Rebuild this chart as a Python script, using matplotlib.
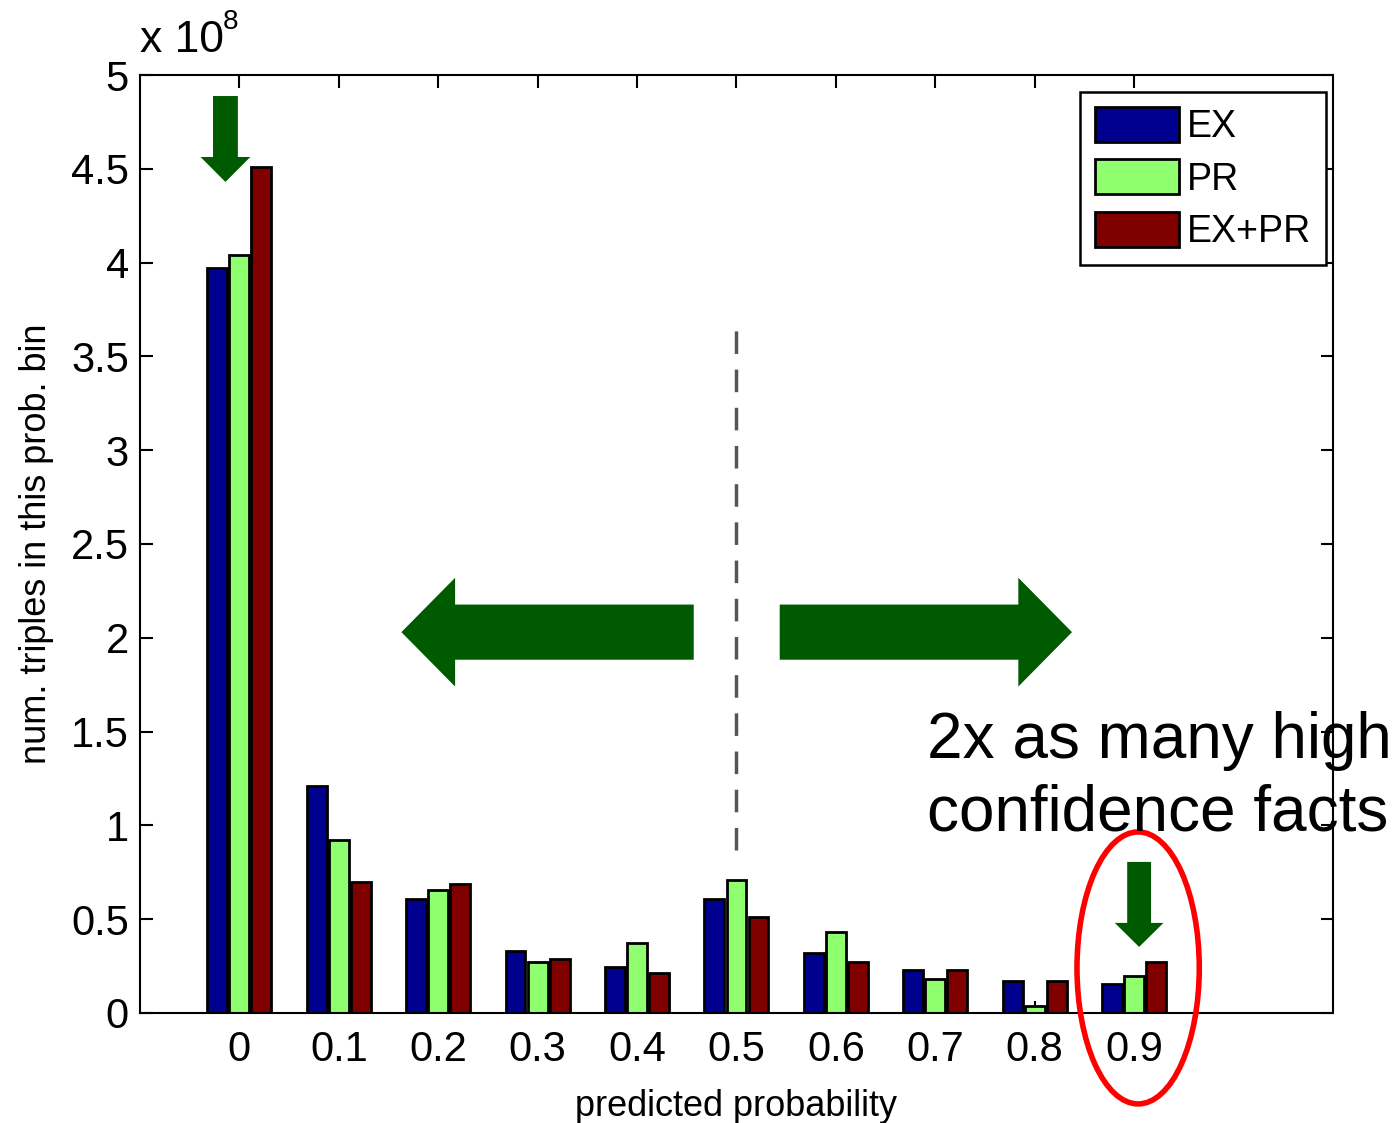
import matplotlib
matplotlib.use("Agg")
import matplotlib.pyplot as plt
from matplotlib.patches import FancyArrow, Ellipse

plt.rcParams['font.family'] = ['Liberation Sans', 'DejaVu Sans']

# predicted probability bins, counts in units of 1e8
bins = [0, 0.1, 0.2, 0.3, 0.4, 0.5, 0.6, 0.7, 0.8, 0.9]
ex = [3.97, 1.21, 0.61, 0.33, 0.245, 0.61, 0.32, 0.23, 0.17, 0.155]
pr = [4.04, 0.92, 0.655, 0.272, 0.375, 0.71, 0.43, 0.18, 0.037, 0.195]
expr = [4.51, 0.70, 0.685, 0.285, 0.215, 0.51, 0.27, 0.23, 0.17, 0.27]
series = [('EX', ex, '#00008f'), ('PR', pr, '#8fff6f'), ('EX+PR', expr, '#800000')]
xtick_labels = ['0', '0.1', '0.2', '0.3', '0.4', '0.5', '0.6', '0.7', '0.8', '0.9']
yticks = [0, 0.5, 1, 1.5, 2, 2.5, 3, 3.5, 4, 4.5, 5]
ytick_labels = ['0', '0.5', '1', '1.5', '2', '2.5', '3', '3.5', '4', '4.5', '5']

fig = plt.figure(figsize=(13.98, 11.23), dpi=100)
ax = fig.add_axes([0.1001, 0.098, 0.8534, 0.8352])

w = 0.02
offsets = [-0.0222, 0, 0.0222]
for (name, vals, col), off in zip(series, offsets):
    ax.bar([b + off for b in bins], vals, width=w, color=col,
           edgecolor='black', linewidth=2, label=name, zorder=2)

ax.set_xlim(-0.1, 1.1)
ax.set_ylim(0, 5)
ax.set_xticks(bins)
ax.set_xticklabels(xtick_labels)
ax.set_yticks(yticks)
ax.set_yticklabels(ytick_labels)
ax.tick_params(direction='in', length=9, width=1.5, top=True, right=True,
               labelsize=30, colors='black')
ax.tick_params(axis='x', pad=12)
ax.tick_params(axis='y', pad=8)
for s in ax.spines.values():
    s.set_linewidth(1.5)

ax.set_xlabel('predicted probability', fontsize=26, labelpad=14)
ax.set_ylabel('num. triples in this prob. bin', fontsize=26, labelpad=12)

# exponent label
ax.text(0.0, 1.015, 'x 10', transform=ax.transAxes, fontsize=32, va='bottom', ha='left')
ax.text(0.069, 1.043, '8', transform=ax.transAxes, fontsize=20, va='bottom', ha='left')

leg = ax.legend(loc='upper right', bbox_to_anchor=(0.994, 0.982), borderaxespad=0,
                fontsize=27, fancybox=False, edgecolor='black', framealpha=1,
                handlelength=2.25, handleheight=1.05, handletextpad=0.2,
                labelspacing=0.38, borderpad=0.4)
leg.get_frame().set_linewidth(1.8)

# annotations
green = '#005a00'
ax.plot([0.5, 0.5], [0.87, 3.69], color='#555555', lw=2.5,
        linestyle=(0, (6.5, 4.5)), zorder=3)
ax.add_patch(FancyArrow(0.457, 2.03, -0.294, 0, width=0.294, head_width=0.58,
                        head_length=0.054, length_includes_head=True,
                        color=green, lw=0, zorder=4))
ax.add_patch(FancyArrow(0.5435, 2.03, 0.294, 0, width=0.294, head_width=0.58,
                        head_length=0.054, length_includes_head=True,
                        color=green, lw=0, zorder=4))
ax.add_patch(FancyArrow(-0.014, 4.888, 0, -0.458, width=0.025, head_width=0.05,
                        head_length=0.133, length_includes_head=True,
                        color=green, lw=0, zorder=4))
ax.add_patch(FancyArrow(0.905, 0.805, 0, -0.453, width=0.024, head_width=0.049,
                        head_length=0.128, length_includes_head=True,
                        color=green, lw=0, zorder=4))
ax.add_patch(Ellipse((0.904, 0.24), 0.123, 1.45, fill=False, edgecolor='#ff0000',
                     lw=4, clip_on=False, zorder=5))
ax.text(0.692, 0.975, '2x as many high\nconfidence facts', fontsize=46,
        va='baseline', ha='left', linespacing=1.25, zorder=5)

fig.savefig('out.png', dpi=100)
